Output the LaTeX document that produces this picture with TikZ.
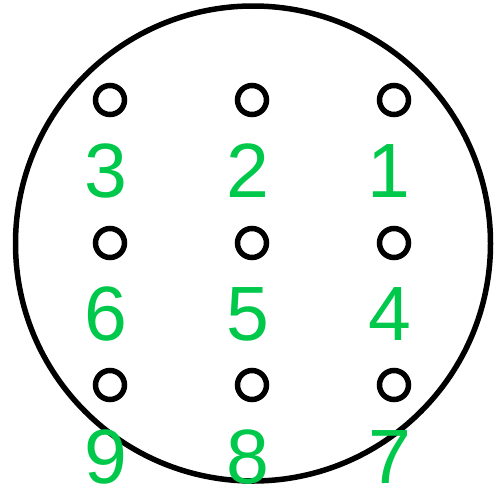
\documentclass[tikz,border=0pt]{standalone}
\usepackage{fontspec}
\setmainfont{Liberation Sans}
\definecolor{pingreen}{RGB}{0,200,75}
\begin{document}
\begin{tikzpicture}[x=1pt,y=1pt,
  pin/.style={circle,draw=black,line width=5.5pt,minimum size=29pt,inner sep=0pt},
  num/.style={text=pingreen,anchor=base,inner sep=0pt,font=\fontsize{77}{77}\selectfont}]
\useasboundingbox (0,0) rectangle (504,-504);
\draw[line width=5.5pt] (253,-243.5) circle [radius=237.5];
\node[pin] (p3) at (110,-100) {};
\node[pin] (p2) at (252,-100) {};
\node[pin] (p1) at (394,-100) {};
\node[pin] (p6) at (110,-243) {};
\node[pin] (p5) at (252,-243) {};
\node[pin] (p4) at (394,-243) {};
\node[pin] (p9) at (110,-385) {};
\node[pin] (p8) at (252,-385) {};
\node[pin] (p7) at (394,-385) {};
\node[num] (n3) at (106,-197.5) {3};
\node[num] (n2) at (248,-197.5) {2};
\node[num] (n1) at (389,-197.5) {1};
\node[num] (n6) at (106,-340.5) {6};
\node[num] (n5) at (248,-340.5) {5};
\node[num] (n4) at (390,-340.5) {4};
\node[num] (n9) at (106,-483.5) {9};
\node[num] (n8) at (248,-483.5) {8};
\node[num] (n7) at (390,-483.5) {7};
\end{tikzpicture}
\end{document}
